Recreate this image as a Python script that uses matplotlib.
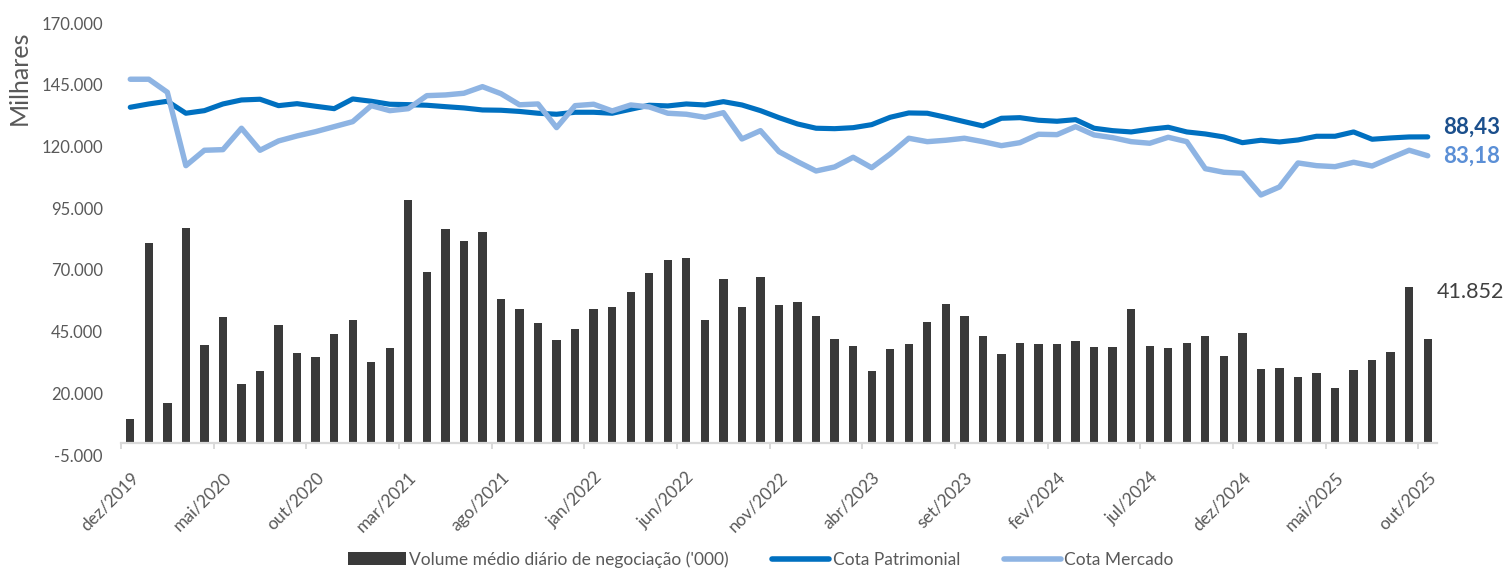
import matplotlib
matplotlib.use("Agg")
import matplotlib.pyplot as plt
from matplotlib.patches import Patch
from matplotlib.lines import Line2D
from matplotlib.ticker import FuncFormatter, FixedLocator
import numpy as np

plt.rcParams['font.family'] = ['Lato', 'DejaVu Sans']

# Monthly categories, dez/2019 .. out/2025
pt_months = ['jan', 'fev', 'mar', 'abr', 'mai', 'jun',
             'jul', 'ago', 'set', 'out', 'nov', 'dez']
categories = ['dez/2019'] + [f"{m}/{y}" for y in range(2020, 2026)
                             for m in pt_months][:70]

tick_labels = ['dez/2019', 'mai/2020', 'out/2020', 'mar/2021', 'ago/2021',
               'jan/2022', 'jun/2022', 'nov/2022', 'abr/2023', 'set/2023',
               'fev/2024', 'jul/2024', 'dez/2024', 'mai/2025', 'out/2025']

# Average daily traded volume ('000)
volume = [9450, 81000, 16200, 87100, 39700, 50900, 23600, 28900, 47500, 36300,
          34600, 43900, 49700, 32800, 38200, 98300, 69000, 86600, 81600, 85500,
          58200, 54000, 48600, 41600, 46000, 54200, 54900, 61000, 68900, 74000,
          74800, 49600, 66400, 55100, 67000, 55800, 57000, 51300, 41900, 39200,
          29200, 38100, 39900, 49000, 56100, 51400, 43200, 35800, 40500, 40100,
          40000, 41100, 38600, 38900, 54000, 39200, 38200, 40400, 43100, 35100,
          44400, 30000, 30300, 26600, 28100, 22000, 29600, 33500, 36600, 63200,
          41852]

# Net asset value per share
cota_patrimonial = [96.66, 97.58, 98.33, 95.00, 95.72, 97.58, 98.69, 98.89, 97.11, 97.66,
                    96.94, 96.27, 98.97, 98.33, 97.50, 97.39, 97.22, 96.83, 96.47, 95.91,
                    95.83, 95.50, 95.00, 94.72, 95.27, 95.27, 95.00, 96.11, 97.22, 97.03,
                    97.58, 97.30, 98.22, 97.30, 95.72, 93.77, 92.02, 90.83, 90.71, 90.99,
                    91.83, 93.88, 95.08, 95.00, 93.88, 92.66, 91.47, 93.60, 93.77, 93.05,
                    92.77, 93.22, 90.83, 90.16, 89.80, 90.55, 91.10, 89.80, 89.24, 88.41,
                    86.82, 87.49, 87.02, 87.57, 88.60, 88.60, 89.80, 87.77, 88.13, 88.41,
                    88.43]

# Market price per share
cota_mercado = [104.45, 104.45, 100.83, 80.43, 84.71, 84.88, 90.83, 84.71, 87.30, 88.69,
                89.88, 91.27, 92.66, 97.11, 95.72, 96.27, 99.89, 100.08, 100.56, 102.39,
                100.44, 97.35, 97.58, 91.00, 97.11, 97.50, 95.64, 97.30, 96.75, 95.00,
                94.72, 93.88, 95.16, 87.85, 90.16, 84.32, 81.54, 78.95, 80.07, 82.76,
                79.87, 83.68, 88.05, 87.10, 87.49, 88.05, 87.10, 85.99, 86.82, 89.16,
                89.05, 91.27, 88.96, 88.21, 87.10, 86.66, 88.32, 87.10, 79.59, 78.59,
                78.32, 72.28, 74.51, 81.18, 80.43, 80.15, 81.37, 80.34, 82.57, 84.71,
                83.18]

BAR_C = '#3A3A3A'
PAT_C = '#0070C0'
MER_C = '#8EB4E3'
GRAY = '#595959'
AXIS_C = '#D9D9D9'

W, H = 1507, 568
fig = plt.figure(figsize=(W / 100, H / 100), dpi=100)
left, right, top, bottom = 121, 1437, 23.3, 455
ax = fig.add_axes([left / W, 1 - bottom / H, (right - left) / W, (bottom - top) / H])

x = np.arange(len(categories))
ax.bar(x, volume, width=0.45, color=BAR_C, zorder=2)

ax.set_xlim(-0.5, len(categories) - 0.5)
ax.set_ylim(-5000, 170000)
ax.set_yticks(np.arange(-5000, 170001, 25000))
thousands = FuncFormatter(lambda v, _: f"{v:,.0f}".replace(',', '.'))
ax.yaxis.set_major_formatter(thousands)
ax.tick_params(axis='y', length=0, pad=13, labelsize=12, labelcolor=GRAY)

for s in ['top', 'right', 'left']:
    ax.spines[s].set_visible(False)
ax.spines['bottom'].set_position(('data', 0))
ax.spines['bottom'].set_color(AXIS_C)
ax.spines['bottom'].set_linewidth(1.6)

# boundary tick marks every five months, labels centred on their month
ax.xaxis.set_major_locator(FixedLocator(np.arange(-0.5, len(categories) - 1, 5)))
ax.xaxis.set_major_formatter(FuncFormatter(lambda v, _: ''))
ax.tick_params(axis='x', which='major', length=4, width=1.4, color=AXIS_C, direction='out')
label_pos = [categories.index(t) for t in tick_labels]
ax.set_xticks(label_pos, tick_labels, minor=True)
ax.tick_params(axis='x', which='minor', length=0, pad=19, labelsize=12.5, labelcolor=GRAY)
for lab in ax.get_xticklabels(minor=True):
    lab.set_rotation(45)
    lab.set_ha('right')
    lab.set_rotation_mode('anchor')

ax.annotate(f"{volume[-1]:,.0f}".replace(',', '.'), xy=(x[-1], volume[-1]),
            xytext=(9, 47), textcoords='offset pixels', ha='left', va='center',
            fontsize=15.5, color='#404040')

# secondary (hidden) axis for the share values
ax2 = ax.twinx()
ax2.set_ylim(0, 120)
ax2.axis('off')
ax2.plot(x, cota_patrimonial, color=PAT_C, lw=3.7, solid_joinstyle='round',
         solid_capstyle='round', zorder=3)
ax2.plot(x, cota_mercado, color=MER_C, lw=3.9, solid_joinstyle='round',
         solid_capstyle='round', zorder=4)
fmt_br = lambda v: f"{v:.2f}".replace('.', ',')
ax2.annotate(fmt_br(cota_patrimonial[-1]), xy=(x[-1], cota_patrimonial[-1]),
             xytext=(15, 10), textcoords='offset pixels', ha='left', va='center',
             fontsize=16, fontweight='bold', color='#1B4F8C')
ax2.annotate(fmt_br(cota_mercado[-1]), xy=(x[-1], cota_mercado[-1]),
             xytext=(15, 0), textcoords='offset pixels', ha='left', va='center',
             fontsize=16, fontweight='bold', color='#5B8FD6')

fig.text(19 / W, 1 - 78 / H, 'Milhares', rotation=90, ha='center', va='center',
         fontsize=18, color=GRAY)

handles = [Patch(facecolor=BAR_C, edgecolor='none'),
           Line2D([], [], color=PAT_C, lw=4, solid_capstyle='round'),
           Line2D([], [], color=MER_C, lw=4, solid_capstyle='round')]
labels = ["Volume médio diário de negociação ('000)", 'Cota Patrimonial', 'Cota Mercado']
leg = fig.legend(handles, labels, loc='center', bbox_to_anchor=(0.505, 0.015), ncol=3,
                 frameon=False, handlelength=3.3, handleheight=0.75, handletextpad=0.2,
                 columnspacing=2.5, fontsize=12.5, borderaxespad=0, borderpad=0)
for t in leg.get_texts():
    t.set_color(GRAY)

fig.savefig('out.png', dpi=100)
